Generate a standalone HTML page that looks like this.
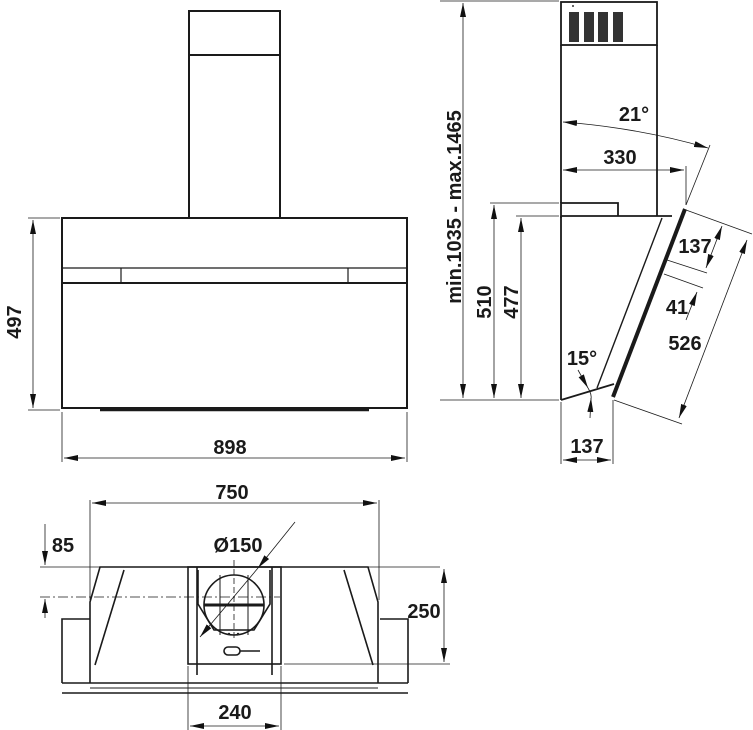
<!DOCTYPE html>
<html><head><style>
html,body{margin:0;padding:0;background:#fff;}
svg{display:block;}
text{font-family:"Liberation Sans",Arial,sans-serif;font-weight:bold;font-size:20px;fill:#1a1a1a;}
</style></head><body>
<svg width="753" height="730" viewBox="0 0 753 730" xmlns="http://www.w3.org/2000/svg">
<defs>
<marker id="a" viewBox="0 0 14 6" refX="14" refY="3" markerWidth="14" markerHeight="6" markerUnits="userSpaceOnUse" orient="auto-start-reverse"><path d="M0,0 L14,3 L0,6 z" fill="#111"/></marker>
</defs>
<g stroke="#1a1a1a" fill="none">
<!-- FRONT VIEW -->
<g stroke-width="2">
<rect x="189" y="11" width="91" height="207"/>
<line x1="189" y1="55" x2="280" y2="55"/>
<rect x="62" y="218" width="345" height="190"/>
<line x1="62" y1="268" x2="407" y2="268" stroke-width="1.2"/>
<line x1="62" y1="283" x2="407" y2="283"/>
<line x1="121" y1="268" x2="121" y2="283" stroke-width="1.2"/>
<line x1="348" y1="268" x2="348" y2="283" stroke-width="1.2"/>
<line x1="100" y1="410" x2="369" y2="410" stroke-width="2.5"/>
</g>
<g stroke-width="0.8">
<line x1="28" y1="218" x2="60" y2="218"/><line x1="28" y1="410" x2="60" y2="410"/>
<line x1="33" y1="220" x2="33" y2="408" marker-start="url(#a)" marker-end="url(#a)"/>
<line x1="62" y1="412" x2="62" y2="462"/><line x1="407" y1="412" x2="407" y2="462"/>
<line x1="64" y1="458" x2="405" y2="458" marker-start="url(#a)" marker-end="url(#a)"/>
</g>
<!-- SIDE VIEW -->
<g stroke-width="1.8">
<rect x="561" y="2" width="96" height="43"/>
<line x1="561" y1="45" x2="561" y2="203"/><line x1="657" y1="45" x2="657" y2="216"/>
<polyline points="561,218 561,203 618,203 618,216"/>
<line x1="561" y1="216" x2="672" y2="216"/>
<line x1="561" y1="216" x2="561" y2="400"/>
<line x1="561" y1="400" x2="614" y2="384"/>
<line x1="662" y1="218" x2="597" y2="388" stroke-width="1.4"/>
<line x1="685" y1="209" x2="613" y2="397" stroke-width="4"/>
</g>
<g fill="#333" stroke="none">
<rect x="569" y="12" width="10" height="30"/><rect x="584" y="12" width="10" height="30"/>
<rect x="598" y="12" width="10" height="30"/><rect x="613" y="12" width="10" height="30"/>
<circle cx="573" cy="6" r="1"/>
</g>
<g stroke-width="0.8">
<line x1="440" y1="1" x2="559" y2="1"/>
<line x1="440" y1="400" x2="559" y2="400"/>
<line x1="463" y1="3" x2="463" y2="398" marker-start="url(#a)" marker-end="url(#a)"/>
<line x1="490" y1="203" x2="559" y2="203"/>
<line x1="494" y1="205" x2="494" y2="398" marker-start="url(#a)" marker-end="url(#a)"/>
<line x1="516" y1="216" x2="559" y2="216"/>
<line x1="521" y1="218" x2="521" y2="398" marker-start="url(#a)" marker-end="url(#a)"/>
<path d="M563,122 Q640,128 708,148" marker-start="url(#a)" marker-end="url(#a)"/>
<line x1="710" y1="145" x2="686" y2="205"/>
<line x1="563" y1="170" x2="684" y2="170" marker-start="url(#a)" marker-end="url(#a)"/>
<line x1="686" y1="166" x2="686" y2="205"/>
<line x1="686" y1="210" x2="752" y2="234"/>
<line x1="614" y1="400" x2="682" y2="424"/>
<line x1="747" y1="240" x2="679" y2="418" marker-start="url(#a)" marker-end="url(#a)"/>
<line x1="722" y1="226" x2="706" y2="268" marker-start="url(#a)" marker-end="url(#a)"/>
<line x1="667" y1="260" x2="707" y2="273"/>
<line x1="664" y1="274" x2="703" y2="288"/>
<line x1="686" y1="320" x2="697" y2="292" marker-end="url(#a)"/>
<line x1="561" y1="402" x2="561" y2="464"/><line x1="613" y1="400" x2="613" y2="464"/>
<line x1="563" y1="460" x2="611" y2="460" marker-start="url(#a)" marker-end="url(#a)"/>
<line x1="578" y1="370" x2="588" y2="388" marker-end="url(#a)"/>
<line x1="590" y1="418" x2="591" y2="398" marker-end="url(#a)"/>
<path d="M588,388 Q592,394 591,400"/>
</g>
<!-- BOTTOM VIEW -->
<g stroke-width="1.6">
<polyline points="62,683 62,619 90,619"/>
<polyline points="408,683 408,619 380,619"/>
<polyline points="90,683 90,602 100,567 368,567 378,602 378,683"/>
<line x1="62" y1="683" x2="408" y2="683"/>
<line x1="62" y1="693" x2="408" y2="693"/>
<line x1="90" y1="688" x2="378" y2="688" stroke-width="1"/>
<line x1="124" y1="570" x2="95" y2="665"/>
<line x1="344" y1="570" x2="373" y2="665"/>
<rect x="188" y="567" width="93" height="97"/>
<line x1="197" y1="567" x2="197" y2="675"/><line x1="272" y1="567" x2="272" y2="675"/>
<polyline points="198,570 198,604 214,630 254,630 270,604 270,570"/>
<circle cx="234" cy="605" r="30"/>
<line x1="204" y1="605" x2="264" y2="605" stroke-width="3"/>
<line x1="220" y1="575" x2="220" y2="635" stroke-width="1"/><line x1="248" y1="575" x2="248" y2="635" stroke-width="1"/>
<rect x="224" y="647" width="16" height="8" rx="4"/>
<line x1="240" y1="651" x2="260" y2="651"/>
</g>
<g stroke-width="0.8">
<line x1="90" y1="500" x2="90" y2="600"/><line x1="379" y1="500" x2="379" y2="600"/>
<line x1="92" y1="503" x2="377" y2="503" marker-start="url(#a)" marker-end="url(#a)"/>
<line x1="40" y1="567" x2="440" y2="567"/>
<line x1="40" y1="597" x2="280" y2="597" stroke-dasharray="10,3,2,3"/>
<line x1="45" y1="524" x2="45" y2="565" marker-end="url(#a)"/>
<line x1="45" y1="618" x2="45" y2="599" marker-end="url(#a)"/>
<line x1="284" y1="664" x2="450" y2="664"/>
<line x1="444" y1="569" x2="444" y2="662" marker-start="url(#a)" marker-end="url(#a)"/>
<line x1="188" y1="666" x2="188" y2="730"/><line x1="281" y1="666" x2="281" y2="730"/>
<line x1="190" y1="726" x2="279" y2="726" marker-start="url(#a)" marker-end="url(#a)"/>
<line x1="295" y1="522" x2="258" y2="568" marker-end="url(#a)"/>
<line x1="258" y1="568" x2="200" y2="637" marker-end="url(#a)"/>
<line x1="234" y1="560" x2="234" y2="640" stroke-dasharray="6,3"/>
</g>
</g>
<g fill="#222">
<circle cx="229" cy="634" r="1.2"/><circle cx="238" cy="634" r="1.2"/>
</g>
<!-- TEXT -->
<text x="21" y="322" text-anchor="middle" transform="rotate(-90 21 322)">497</text>
<text x="230" y="454" text-anchor="middle">898</text>
<text x="461" y="207" text-anchor="middle" transform="rotate(-90 461 207)">min.1035 - max.1465</text>
<text x="491" y="302" text-anchor="middle" transform="rotate(-90 491 302)">510</text>
<text x="518" y="302" text-anchor="middle" transform="rotate(-90 518 302)">477</text>
<text x="634" y="121" text-anchor="middle">21°</text>
<text x="620" y="164" text-anchor="middle">330</text>
<text x="695" y="253" text-anchor="middle">137</text>
<text x="677" y="314" text-anchor="middle">41</text>
<text x="685" y="350" text-anchor="middle">526</text>
<text x="582" y="365" text-anchor="middle">15°</text>
<text x="587" y="453" text-anchor="middle">137</text>
<text x="232" y="499" text-anchor="middle">750</text>
<text x="63" y="552" text-anchor="middle">85</text>
<text x="238" y="552" text-anchor="middle">Ø150</text>
<text x="424" y="618" text-anchor="middle">250</text>
<text x="235" y="719" text-anchor="middle">240</text>
</svg>
</body></html>
